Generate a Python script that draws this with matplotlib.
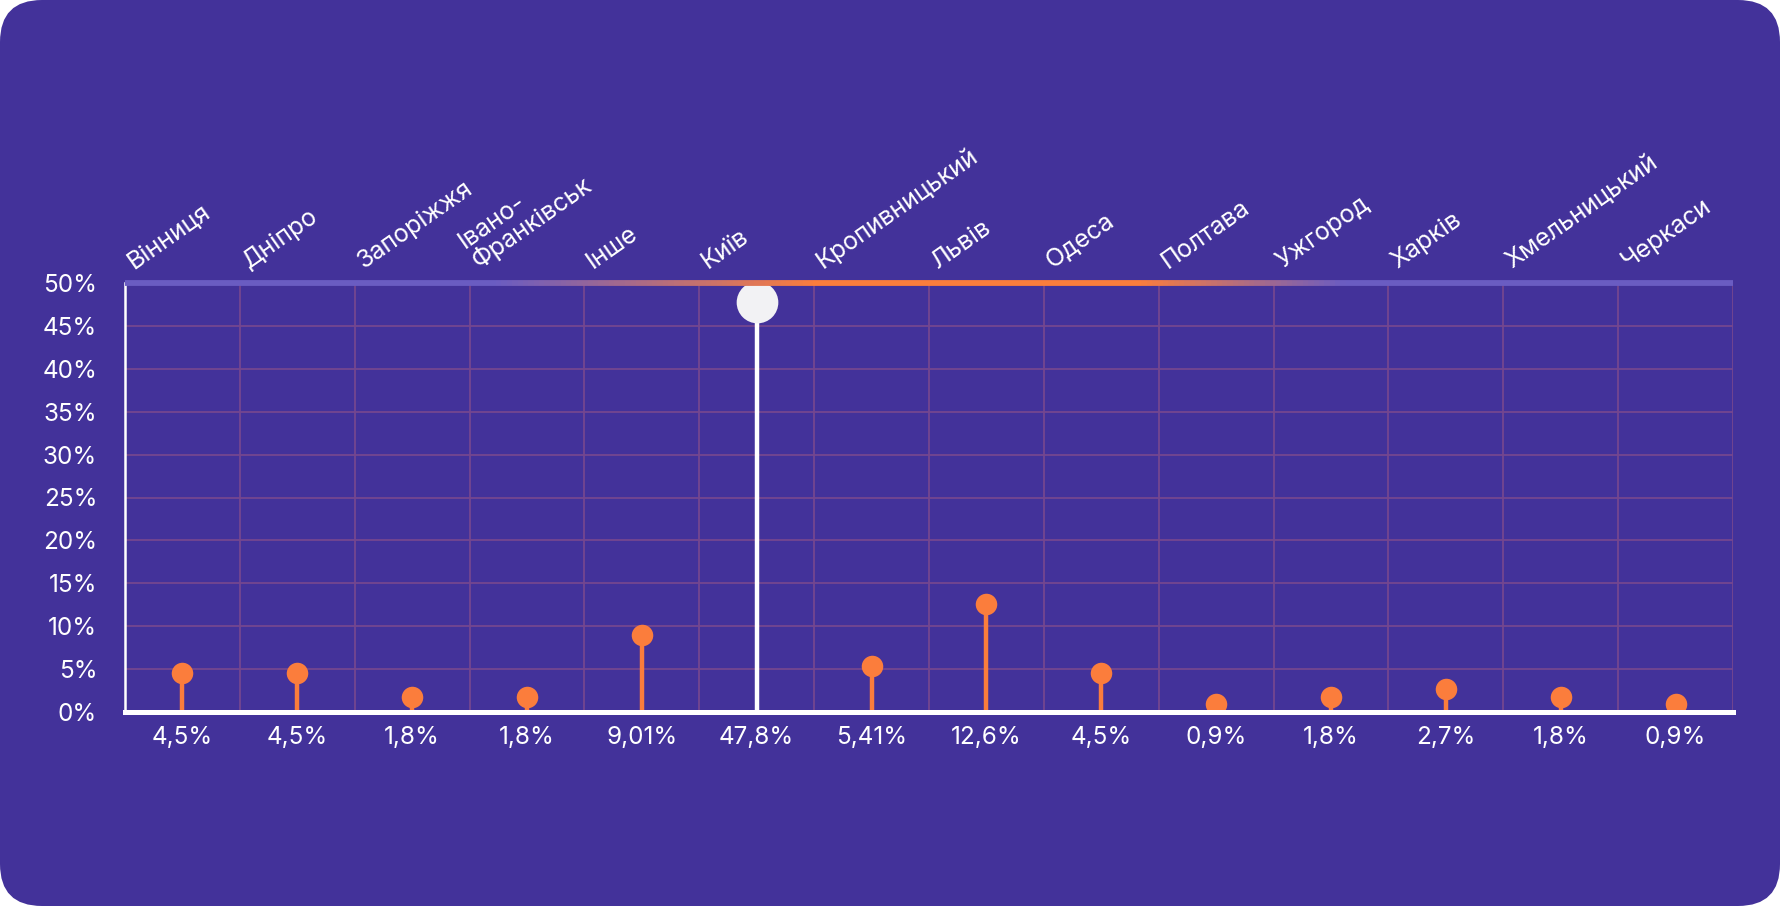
import matplotlib
matplotlib.use('Agg')
import matplotlib.pyplot as plt
import numpy as np
from matplotlib.patches import FancyBboxPatch
from matplotlib.collections import LineCollection
from matplotlib.colors import to_rgb

cities = ['Вінниця', 'Дніпро', 'Запоріжжя', 'Івано-\nФранківськ', 'Інше', 'Київ',
          'Кропивницький', 'Львів', 'Одеса', 'Полтава', 'Ужгород', 'Харків',
          'Хмельницький', 'Черкаси']
shares = [4.5, 4.5, 1.8, 1.8, 9.01, 47.8, 5.41, 12.6, 4.5, 0.9, 1.8, 2.7, 1.8, 0.9]
yticks = [0, 5, 10, 15, 20, 25, 30, 35, 40, 45, 50]

BG = '#43329a'
ORANGE = '#fb7d3c'
GRID = '#74478f'

plt.rcParams['font.family'] = ['Inter', 'DejaVu Sans']

fig = plt.figure(figsize=(17.8, 9.06), dpi=100, facecolor='white')
fig.patches.append(FancyBboxPatch((0, 0), 1780, 906, boxstyle='round,pad=0,rounding_size=42',
                                  transform=None, facecolor=BG, edgecolor='none', zorder=-10))
ax = fig.add_axes([125/1780, 194/906, 1608/1780, 429/906])
ax.set_facecolor(BG)
ax.patch.set_alpha(0)
ax.set_xlim(0, len(cities)); ax.set_ylim(0, 50)

# grid
for x in range(1, len(cities) + 1):
    ax.axvline(x, color=GRID, lw=1.3, zorder=1)
for y in yticks[1:-1]:
    ax.axhline(y, color=GRID, lw=1.3, zorder=1)

for s in ax.spines.values():
    s.set_visible(False)
ax.axvline(0, color='white', lw=1.8, zorder=5, clip_on=False)
ax.axhline(0, color='white', lw=3.6, zorder=6, clip_on=False)

# gradient top line
xs = np.linspace(0, len(cities), 300)
purple = np.array(to_rgb('#6a5cc2')); orange = np.array(to_rgb(ORANGE))
w = np.clip(np.minimum((xs - 3.2) / 2.8, (10.6 - xs) / 1.8), 0, 1)
cols = [purple * (1 - a) + orange * a for a in w]
segs = [[(xs[i], 50), (xs[i + 1], 50)] for i in range(len(xs) - 1)]
ax.add_collection(LineCollection(segs, colors=cols[:-1], linewidths=4.2, zorder=6,
                                 clip_on=False, capstyle='butt'))

# lollipops
xc = np.arange(len(cities)) + 0.5
for x, v in zip(xc, shares):
    big = v == max(shares)
    c = 'white' if big else ORANGE
    ax.vlines(x, 0, v, color=c, lw=3.2, zorder=3)
    ax.plot(x, v, 'o', color='#f2f2f4' if big else ORANGE, ms=30 if big else 15.5,
            mec='none', zorder=4)

ax.set_xticks([])
ax.set_yticks(yticks)
ax.set_yticklabels([f'{t}%' for t in yticks], color='white', fontsize=17.5)
ax.tick_params(axis='y', length=0, pad=20)

for x, v in zip(xc, shares):
    ax.text(x, -1.6, f'{v:g}'.replace('.', ',') + '%', ha='center', va='top',
            color='white', fontsize=17.5, clip_on=False)

for i, name in enumerate(cities):
    ax.text(i + 0.1, 51.2, name, rotation=35, rotation_mode='anchor', ha='left',
            va='bottom', color='white', fontsize=18, multialignment='left',
            linespacing=0.95, clip_on=False)

fig.savefig('out.png', dpi=100, facecolor='white')
